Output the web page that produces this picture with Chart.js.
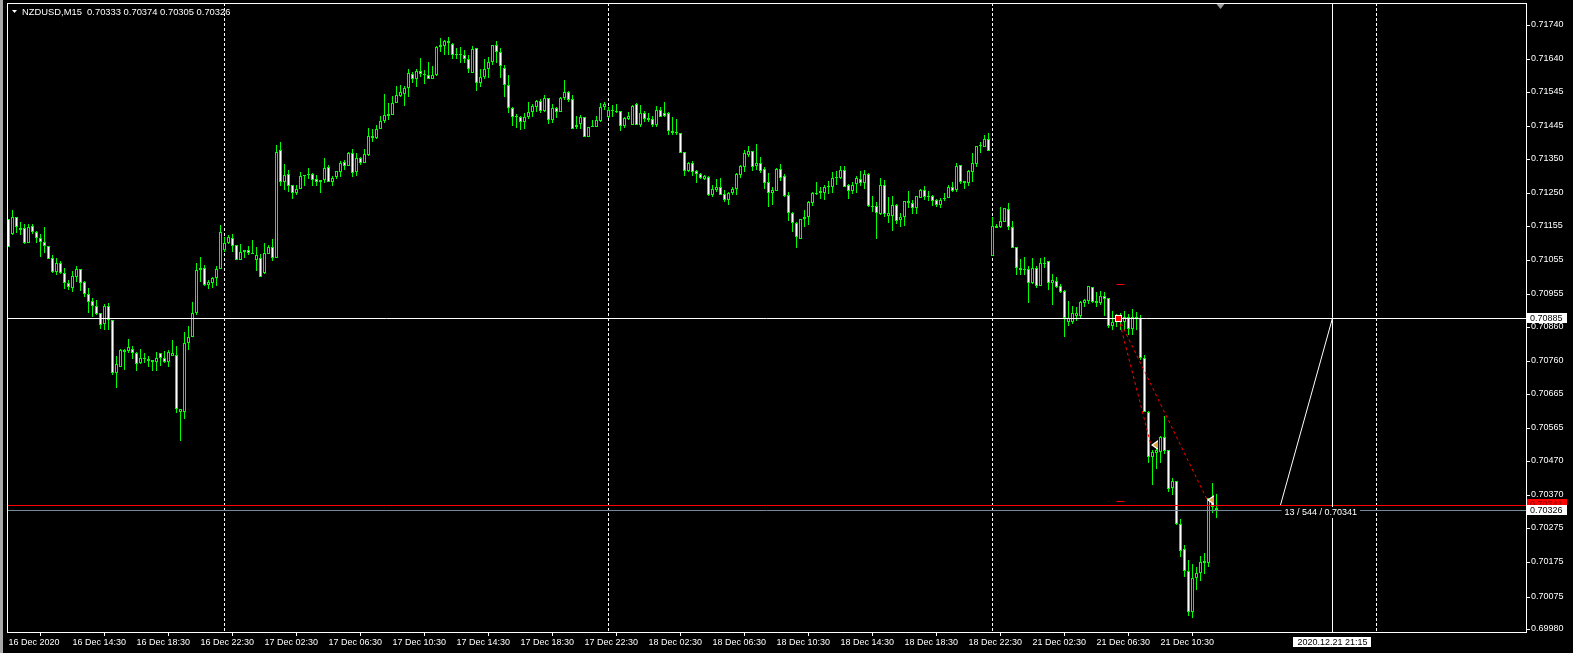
<!DOCTYPE html>
<html>
<head>
<meta charset="utf-8">
<script src="https://cdn.jsdelivr.net/npm/chart.js@4.4.0/dist/chart.umd.min.js"></script>
<style>
  html, body { margin: 0; padding: 0; background: #000; overflow: hidden; }
  #wrap { position: relative; width: 1573px; height: 653px; }
</style>
</head>
<body>
<div id="wrap"><canvas id="chart"></canvas></div>
<script>
// NZDUSD M15, one value per bar, bar 0 = 16 Dec 10:30
const symbolTitle = "NZDUSD,M15  0.70333 0.70374 0.70305 0.70326";

const openP = [
  0.71174,0.71132,0.71179,0.71148,0.71147,0.71105,0.71154,0.71137,0.71118,0.71107,
  0.71097,0.71060,0.71021,0.71045,0.71016,0.70987,0.70972,0.71006,0.71028,0.70992,
  0.70955,0.70935,0.70921,0.70900,0.70868,0.70921,0.70880,0.70727,0.70744,0.70788,
  0.70791,0.70795,0.70783,0.70754,0.70770,0.70768,0.70763,0.70759,0.70783,0.70770,
  0.70759,0.70776,0.70777,0.70613,0.70613,0.70812,0.70832,0.70902,0.71025,0.71032,
  0.70982,0.70989,0.71003,0.71028,0.71084,0.71103,0.71118,0.71100,0.71056,0.71078,
  0.71083,0.71075,0.71056,0.71060,0.71018,0.71073,0.71093,0.71062,0.71375,0.71283,
  0.71304,0.71272,0.71251,0.71262,0.71298,0.71302,0.71304,0.71292,0.71287,0.71288,
  0.71325,0.71283,0.71296,0.71312,0.71339,0.71329,0.71366,0.71312,0.71351,0.71338,
  0.71360,0.71411,0.71411,0.71435,0.71459,0.71475,0.71478,0.71511,0.71533,0.71539,
  0.71555,0.71595,0.71582,0.71605,0.71597,0.71592,0.71583,0.71592,0.71674,0.71679,
  0.71692,0.71684,0.71654,0.71652,0.71652,0.71639,0.71598,0.71671,0.71569,0.71587,
  0.71612,0.71632,0.71681,0.71661,0.71613,0.71563,0.71496,0.71473,0.71472,0.71458,
  0.71470,0.71487,0.71501,0.71519,0.71489,0.71527,0.71461,0.71498,0.71487,0.71527,
  0.71543,0.71524,0.71441,0.71451,0.71470,0.71412,0.71443,0.71443,0.71460,0.71501,
  0.71472,0.71488,0.71485,0.71488,0.71446,0.71466,0.71448,0.71508,0.71447,0.71482,
  0.71468,0.71464,0.71449,0.71491,0.71482,0.71482,0.71431,0.71428,0.71425,0.71368,
  0.71314,0.71338,0.71314,0.71305,0.71291,0.71297,0.71243,0.71259,0.71268,0.71247,
  0.71229,0.71249,0.71261,0.71303,0.71326,0.71360,0.71372,0.71328,0.71336,0.71319,
  0.71282,0.71249,0.71257,0.71320,0.71299,0.71243,0.71191,0.71163,0.71117,0.71173,
  0.71179,0.71222,0.71248,0.71249,0.71251,0.71266,0.71268,0.71294,0.71294,0.71317,
  0.71272,0.71257,0.71275,0.71290,0.71280,0.71305,0.71212,0.71212,0.71188,0.71272,
  0.71184,0.71184,0.71215,0.71171,0.71181,0.71227,0.71221,0.71207,0.71236,0.71259,
  0.71241,0.71241,0.71229,0.71214,0.71233,0.71236,0.71266,0.71259,0.71330,0.71285,
  0.71280,0.71312,0.71333,0.71387,0.71385,0.71406,0.71066,0.71149,0.71152,0.71166,
  0.71202,0.71150,0.71092,0.71032,0.71029,0.71028,0.70987,0.71033,0.70980,0.71042,
  0.71052,0.70987,0.70994,0.70979,0.70964,0.70875,0.70875,0.70893,0.70893,0.70931,
  0.70935,0.70977,0.70936,0.70929,0.70950,0.70943,0.70863,0.70890,0.70888,0.70875,
  0.70890,0.70854,0.70890,0.70887,0.70771,0.70613,0.70482,0.70494,0.70496,0.70540,
  0.70501,0.70390,0.70411,0.70285,0.70215,0.70150,0.70031,0.70128,0.70143,0.70172,
  0.70172,0.70361,0.70333
];
const highP = [
  0.71174,0.71200,0.71181,0.71165,0.71160,0.71160,0.71160,0.71140,0.71130,0.71150,
  0.71097,0.71069,0.71060,0.71052,0.71031,0.70997,0.71024,0.71037,0.71028,0.70994,
  0.70972,0.70945,0.70938,0.70900,0.70927,0.70929,0.70880,0.70775,0.70796,0.70795,
  0.70824,0.70804,0.70788,0.70795,0.70783,0.70775,0.70763,0.70786,0.70783,0.70790,
  0.70793,0.70822,0.70804,0.70622,0.70845,0.70863,0.70933,0.71045,0.71064,0.71040,
  0.70997,0.71006,0.71038,0.71156,0.71123,0.71128,0.71131,0.71100,0.71101,0.71083,
  0.71096,0.71113,0.71094,0.71072,0.71103,0.71100,0.71116,0.71390,0.71398,0.71334,
  0.71317,0.71272,0.71272,0.71311,0.71301,0.71323,0.71307,0.71301,0.71287,0.71352,
  0.71331,0.71300,0.71313,0.71344,0.71346,0.71369,0.71377,0.71366,0.71356,0.71378,
  0.71439,0.71437,0.71448,0.71474,0.71538,0.71513,0.71533,0.71561,0.71563,0.71561,
  0.71611,0.71603,0.71610,0.71643,0.71608,0.71631,0.71620,0.71679,0.71701,0.71695,
  0.71703,0.71686,0.71671,0.71676,0.71666,0.71652,0.71678,0.71671,0.71610,0.71639,
  0.71645,0.71681,0.71692,0.71671,0.71622,0.71593,0.71501,0.71480,0.71474,0.71482,
  0.71515,0.71509,0.71521,0.71525,0.71534,0.71527,0.71509,0.71501,0.71530,0.71579,
  0.71547,0.71535,0.71474,0.71477,0.71470,0.71443,0.71462,0.71474,0.71511,0.71516,
  0.71501,0.71506,0.71509,0.71488,0.71472,0.71487,0.71506,0.71511,0.71506,0.71489,
  0.71482,0.71474,0.71503,0.71501,0.71515,0.71486,0.71472,0.71465,0.71425,0.71370,
  0.71341,0.71344,0.71317,0.71307,0.71302,0.71299,0.71272,0.71291,0.71295,0.71259,
  0.71253,0.71268,0.71307,0.71331,0.71375,0.71387,0.71372,0.71392,0.71354,0.71326,
  0.71307,0.71266,0.71322,0.71334,0.71304,0.71254,0.71195,0.71166,0.71175,0.71200,
  0.71227,0.71254,0.71282,0.71266,0.71273,0.71286,0.71311,0.71314,0.71328,0.71328,
  0.71276,0.71283,0.71299,0.71314,0.71317,0.71309,0.71241,0.71224,0.71294,0.71288,
  0.71237,0.71241,0.71217,0.71191,0.71227,0.71256,0.71229,0.71241,0.71263,0.71270,
  0.71256,0.71244,0.71231,0.71234,0.71249,0.71273,0.71282,0.71338,0.71330,0.71285,
  0.71317,0.71367,0.71387,0.71398,0.71419,0.71424,0.71181,0.71160,0.71208,0.71205,
  0.71220,0.71168,0.71092,0.71057,0.71063,0.71037,0.71060,0.71038,0.71060,0.71063,
  0.71052,0.71014,0.71004,0.70984,0.70967,0.70935,0.70921,0.70919,0.70936,0.70940,
  0.70979,0.70977,0.70963,0.70964,0.70962,0.70943,0.70907,0.70899,0.70901,0.70906,
  0.70899,0.70911,0.70903,0.70894,0.70778,0.70615,0.70502,0.70511,0.70542,0.70601,
  0.70501,0.70419,0.70411,0.70300,0.70225,0.70181,0.70170,0.70162,0.70193,0.70203,
  0.70361,0.70405,0.70374
];
const lowP = [
  0.71092,0.71128,0.71134,0.71128,0.71101,0.71105,0.71132,0.71103,0.71064,0.71074,
  0.71059,0.71018,0.71011,0.71013,0.70971,0.70967,0.70963,0.70992,0.70966,0.70948,
  0.70901,0.70890,0.70895,0.70855,0.70851,0.70851,0.70720,0.70683,0.70742,0.70735,
  0.70785,0.70766,0.70733,0.70752,0.70754,0.70742,0.70733,0.70733,0.70746,0.70754,
  0.70742,0.70776,0.70610,0.70528,0.70593,0.70793,0.70832,0.70894,0.70992,0.70979,
  0.70971,0.70973,0.70979,0.71028,0.71079,0.71101,0.71078,0.71056,0.71056,0.71062,
  0.71069,0.71071,0.71024,0.71004,0.71014,0.71073,0.71053,0.71062,0.71270,0.71259,
  0.71253,0.71233,0.71244,0.71262,0.71271,0.71292,0.71270,0.71270,0.71251,0.71280,
  0.71283,0.71270,0.71292,0.71297,0.71317,0.71329,0.71297,0.71300,0.71331,0.71338,
  0.71358,0.71399,0.71408,0.71435,0.71455,0.71462,0.71478,0.71511,0.71530,0.71503,
  0.71530,0.71571,0.71559,0.71589,0.71568,0.71583,0.71583,0.71590,0.71661,0.71652,
  0.71652,0.71641,0.71641,0.71627,0.71627,0.71598,0.71598,0.71548,0.71559,0.71581,
  0.71584,0.71622,0.71627,0.71584,0.71530,0.71482,0.71445,0.71438,0.71433,0.71437,
  0.71464,0.71470,0.71486,0.71482,0.71487,0.71451,0.71455,0.71467,0.71487,0.71521,
  0.71516,0.71435,0.71435,0.71435,0.71412,0.71412,0.71443,0.71441,0.71458,0.71491,
  0.71467,0.71472,0.71482,0.71431,0.71438,0.71462,0.71448,0.71447,0.71441,0.71457,
  0.71457,0.71443,0.71443,0.71470,0.71472,0.71419,0.71419,0.71419,0.71365,0.71299,
  0.71312,0.71299,0.71280,0.71292,0.71288,0.71241,0.71239,0.71254,0.71243,0.71225,
  0.71215,0.71244,0.71244,0.71293,0.71312,0.71356,0.71315,0.71317,0.71307,0.71263,
  0.71208,0.71215,0.71257,0.71286,0.71237,0.71169,0.71136,0.71091,0.71115,0.71152,
  0.71158,0.71212,0.71245,0.71233,0.71229,0.71247,0.71251,0.71272,0.71290,0.71268,
  0.71231,0.71247,0.71251,0.71270,0.71261,0.71208,0.71195,0.71117,0.71186,0.71179,
  0.71164,0.71140,0.71160,0.71150,0.71154,0.71205,0.71189,0.71189,0.71236,0.71229,
  0.71228,0.71212,0.71208,0.71207,0.71226,0.71236,0.71254,0.71254,0.71275,0.71261,
  0.71270,0.71283,0.71326,0.71365,0.71385,0.71373,0.71066,0.71149,0.71149,0.71166,
  0.71142,0.71091,0.71011,0.71011,0.71011,0.70931,0.70985,0.70972,0.70979,0.71031,
  0.70969,0.70924,0.70972,0.70960,0.70830,0.70863,0.70868,0.70877,0.70885,0.70919,
  0.70927,0.70931,0.70919,0.70924,0.70892,0.70856,0.70851,0.70861,0.70851,0.70851,
  0.70836,0.70836,0.70851,0.70764,0.70613,0.70463,0.70400,0.70446,0.70463,0.70490,
  0.70379,0.70371,0.70283,0.70191,0.70133,0.70018,0.70014,0.70094,0.70120,0.70141,
  0.70162,0.70319,0.70305
];
const closeP = [
  0.71092,0.71179,0.71150,0.71143,0.71103,0.71152,0.71137,0.71118,0.71108,0.71097,
  0.71059,0.71021,0.71045,0.71018,0.70987,0.70977,0.71008,0.71028,0.70987,0.70955,
  0.70934,0.70922,0.70898,0.70867,0.70921,0.70880,0.70727,0.70752,0.70793,0.70793,
  0.70801,0.70783,0.70751,0.70771,0.70767,0.70762,0.70759,0.70771,0.70770,0.70759,
  0.70786,0.70783,0.70622,0.70622,0.70812,0.70832,0.70902,0.71026,0.71032,0.70982,
  0.70991,0.71003,0.71029,0.71136,0.71105,0.71121,0.71097,0.71056,0.71077,0.71083,
  0.71074,0.71073,0.71069,0.71006,0.71074,0.71093,0.71062,0.71369,0.71283,0.71302,
  0.71270,0.71251,0.71263,0.71299,0.71301,0.71305,0.71288,0.71283,0.71283,0.71322,
  0.71283,0.71295,0.71313,0.71338,0.71329,0.71366,0.71309,0.71351,0.71338,0.71362,
  0.71416,0.71416,0.71436,0.71459,0.71476,0.71479,0.71511,0.71534,0.71544,0.71555,
  0.71598,0.71582,0.71604,0.71597,0.71592,0.71583,0.71592,0.71676,0.71681,0.71692,
  0.71686,0.71652,0.71651,0.71651,0.71639,0.71610,0.71669,0.71569,0.71587,0.71610,
  0.71632,0.71681,0.71661,0.71620,0.71563,0.71496,0.71470,0.71470,0.71458,0.71470,
  0.71487,0.71502,0.71517,0.71490,0.71527,0.71461,0.71498,0.71487,0.71527,0.71543,
  0.71521,0.71435,0.71448,0.71470,0.71412,0.71443,0.71445,0.71462,0.71499,0.71508,
  0.71491,0.71491,0.71488,0.71446,0.71467,0.71474,0.71504,0.71449,0.71482,0.71465,
  0.71462,0.71449,0.71491,0.71472,0.71474,0.71431,0.71424,0.71424,0.71365,0.71314,
  0.71338,0.71312,0.71304,0.71293,0.71299,0.71243,0.71261,0.71268,0.71245,0.71229,
  0.71249,0.71263,0.71305,0.71328,0.71365,0.71372,0.71326,0.71336,0.71315,0.71278,
  0.71249,0.71259,0.71320,0.71295,0.71241,0.71193,0.71162,0.71121,0.71173,0.71179,
  0.71225,0.71251,0.71251,0.71255,0.71266,0.71270,0.71295,0.71296,0.71317,0.71268,
  0.71255,0.71272,0.71294,0.71280,0.71305,0.71212,0.71208,0.71191,0.71272,0.71189,
  0.71191,0.71215,0.71169,0.71181,0.71227,0.71220,0.71207,0.71241,0.71259,0.71239,
  0.71238,0.71228,0.71214,0.71229,0.71235,0.71266,0.71257,0.71328,0.71283,0.71280,
  0.71314,0.71336,0.71387,0.71390,0.71406,0.71373,0.71154,0.71154,0.71168,0.71205,
  0.71150,0.71091,0.71031,0.71027,0.71027,0.70987,0.71033,0.70980,0.71045,0.71045,
  0.70987,0.70997,0.70977,0.70963,0.70887,0.70887,0.70902,0.70902,0.70933,0.70938,
  0.70979,0.70933,0.70929,0.70950,0.70942,0.70863,0.70875,0.70875,0.70880,0.70888,
  0.70854,0.70890,0.70883,0.70769,0.70613,0.70482,0.70497,0.70502,0.70540,0.70499,
  0.70387,0.70411,0.70285,0.70209,0.70150,0.70031,0.70128,0.70143,0.70177,0.70179,
  0.70361,0.70335,0.70326
];

// time axis: bar index of each label, and its text
const xTickBars = [0,16,32,48,64,80,96,112,128,144,160,176,192,208,224,240,256,272,288];
const xTickLabels = [
  "16 Dec 2020","16 Dec 14:30","16 Dec 18:30","16 Dec 22:30","17 Dec 02:30","17 Dec 06:30",
  "17 Dec 10:30","17 Dec 14:30","17 Dec 18:30","17 Dec 22:30","18 Dec 02:30","18 Dec 06:30",
  "18 Dec 10:30","18 Dec 14:30","18 Dec 18:30","18 Dec 22:30","21 Dec 02:30","21 Dec 06:30",
  "21 Dec 10:30"
];
const daySeparatorBars = [54, 150, 246, 342];

// price axis
const yTickValues = [
  0.71740,0.71640,0.71545,0.71445,0.71350,0.71250,0.71155,0.71055,0.70955,0.70860,
  0.70760,0.70665,0.70565,0.70470,0.70370,0.70275,0.70175,0.70075,0.69980
];
const yMin = 0.69972, yMax = 0.71803;
const xMin = -0.375, xMax = 379.375;

// crosshair, measure, levels, trades
const crossBar = 331, crossPrice = 0.70885, crossTime = "2020.12.21 21:15";
const measureBar = 318, measurePrice = 0.70341, measureText = "13 / 544 / 0.70341";
const bidPrice = 0.70326;
const shiftBar = 303;
const tradeOpenBar = 277.5, tradeOpenPrice = 0.70885;
const tradeCloseBars = [285.6, 299.7];
const tradeClosePrices = [0.70515, 0.70357];
const stopLevels = [0.70985, 0.70353];

const FAMILY = '"Liberation Sans", Arial, sans-serif';
const FONT = '9px ' + FAMILY;
const LIME = '#00ff00';

const wickData = highP.map((h, i) => ({ x: i, y: [lowP[i], h] }));
const bodyData = openP.map((o, i) => ({ x: i, y: [o, closeP[i]] }));
const bodyFill = openP.map((o, i) => (closeP[i] < o ? '#ffffff' : '#000000'));

const crisp = v => Math.floor(v) + 0.5;

function boxLabel(ctx, text, x, yc, w, bg, fg) {
  ctx.fillStyle = bg;
  ctx.fillRect(x, Math.round(yc) - 5, w, 10);
  ctx.fillStyle = fg;
  ctx.textBaseline = 'middle';
  ctx.textAlign = 'left';
  ctx.fillText(text, x + 3, Math.round(yc) + 0.5);
}

const mt4Overlay = {
  id: 'mt4Overlay',
  beforeDraw(chart) {
    const ctx = chart.ctx;
    ctx.save();
    ctx.fillStyle = '#000';
    ctx.fillRect(0, 0, chart.width, chart.height);
    ctx.fillStyle = '#a8a8a8';
    ctx.fillRect(0, 0, 3, chart.height);
    ctx.restore();
  },
  beforeDatasetsDraw(chart) {
    const { ctx, chartArea: a, scales: { x } } = chart;
    ctx.save();
    ctx.strokeStyle = '#ffffff';
    ctx.lineWidth = 1;
    ctx.setLineDash([3, 2]);
    daySeparatorBars.forEach(b => {
      const px = crisp(x.getPixelForValue(b));
      ctx.beginPath();
      ctx.moveTo(px, a.top);
      ctx.lineTo(px, a.bottom);
      ctx.stroke();
    });
    ctx.restore();
  },
  afterDatasetsDraw(chart) {
    const { ctx, chartArea: a, scales: { x, y } } = chart;
    ctx.save();
    ctx.beginPath();
    ctx.rect(a.left, a.top, a.right - a.left, a.bottom - a.top);
    ctx.clip();
    ctx.lineWidth = 1;

    const hline = (p, color) => {
      const py = crisp(y.getPixelForValue(p));
      ctx.strokeStyle = color;
      ctx.beginPath();
      ctx.moveTo(a.left, py);
      ctx.lineTo(a.right, py);
      ctx.stroke();
    };
    hline(bidPrice, '#778899');
    hline(measurePrice, '#ff0000');
    hline(crossPrice, '#ffffff');

    // crosshair vertical
    const cx = crisp(x.getPixelForValue(crossBar));
    ctx.strokeStyle = '#ffffff';
    ctx.beginPath();
    ctx.moveTo(cx, a.top);
    ctx.lineTo(cx, a.bottom);
    ctx.stroke();

    // measuring line
    ctx.beginPath();
    ctx.moveTo(x.getPixelForValue(measureBar), y.getPixelForValue(measurePrice));
    ctx.lineTo(x.getPixelForValue(crossBar), y.getPixelForValue(crossPrice));
    ctx.stroke();

    // trade lines
    const ox = x.getPixelForValue(tradeOpenBar), oy = y.getPixelForValue(tradeOpenPrice);
    ctx.strokeStyle = '#ff0000';
    ctx.setLineDash([3, 3]);
    tradeCloseBars.forEach((b, k) => {
      ctx.beginPath();
      ctx.moveTo(ox, oy);
      ctx.lineTo(x.getPixelForValue(b), y.getPixelForValue(tradeClosePrices[k]));
      ctx.stroke();
    });
    ctx.setLineDash([]);

    // stop / target dashes
    stopLevels.forEach(p => {
      const py = crisp(y.getPixelForValue(p));
      ctx.beginPath();
      ctx.moveTo(ox - 2, py);
      ctx.lineTo(ox + 6, py);
      ctx.stroke();
    });

    // open marker
    ctx.fillStyle = '#ffffff';
    ctx.fillRect(Math.round(ox) - 4, Math.round(oy) - 3, 7, 7);
    ctx.fillStyle = '#ff0000';
    ctx.fillRect(Math.round(ox) - 3, Math.round(oy) - 2, 5, 5);

    // close markers
    tradeCloseBars.forEach((b, k) => {
      const tx = Math.round(x.getPixelForValue(b)), ty = Math.round(y.getPixelForValue(tradeClosePrices[k]));
      ctx.fillStyle = '#ffffff';
      ctx.beginPath();
      ctx.moveTo(tx, ty);
      ctx.lineTo(tx + 7, ty - 5);
      ctx.lineTo(tx + 7, ty + 5);
      ctx.closePath();
      ctx.fill();
      ctx.fillStyle = '#d9a441';
      ctx.beginPath();
      ctx.moveTo(tx + 2, ty);
      ctx.lineTo(tx + 7, ty - 3.5);
      ctx.lineTo(tx + 7, ty + 3.5);
      ctx.closePath();
      ctx.fill();
    });

    // measure info text
    ctx.font = FONT;
    const mx = x.getPixelForValue(measureBar);
    const my = Math.round(y.getPixelForValue(bidPrice)) + 2;
    const tw = ctx.measureText(measureText).width;
    ctx.fillStyle = '#000';
    ctx.fillRect(mx + 1, my - 5, tw + 6, 11);
    ctx.fillStyle = '#ffffff';
    ctx.textBaseline = 'middle';
    ctx.textAlign = 'left';
    ctx.fillText(measureText, mx + 4, my + 0.5);
    ctx.restore();
  },
  afterDraw(chart) {
    const { ctx, chartArea: a, scales: { x, y } } = chart;
    ctx.save();
    // frame
    ctx.strokeStyle = '#ffffff';
    ctx.lineWidth = 1;
    ctx.strokeRect(a.left + 0.5, a.top + 0.5, a.right - a.left, a.bottom - a.top);

    // title
    ctx.fillStyle = '#ffffff';
    ctx.beginPath();
    ctx.moveTo(12, 10); ctx.lineTo(17, 10); ctx.lineTo(14.5, 13); ctx.closePath();
    ctx.fill();
    ctx.font = '9.4px ' + FAMILY;
    ctx.textBaseline = 'middle';
    ctx.textAlign = 'left';
    ctx.fillText(symbolTitle, 22, 12.5);
    ctx.font = FONT;

    // chart shift marker
    const sx = x.getPixelForValue(shiftBar);
    ctx.fillStyle = '#9a9a9a';
    ctx.beginPath();
    ctx.moveTo(sx - 4, a.top + 1); ctx.lineTo(sx + 4, a.top + 1); ctx.lineTo(sx, a.top + 6); ctx.closePath();
    ctx.fill();

    // price labels on the axis
    const lx = a.right + 1;
    boxLabel(ctx, measurePrice.toFixed(5), lx, y.getPixelForValue(measurePrice) - 1, 40, '#ff0000', '#800000');
    boxLabel(ctx, bidPrice.toFixed(5), lx, y.getPixelForValue(bidPrice), 40, '#ffffff', '#000000');
    boxLabel(ctx, crossPrice.toFixed(5), lx, y.getPixelForValue(crossPrice), 40, '#ffffff', '#000000');

    // crosshair time label
    const cx = x.getPixelForValue(crossBar);
    const tw = ctx.measureText(crossTime).width;
    ctx.fillStyle = '#ffffff';
    ctx.fillRect(Math.round(cx - tw / 2) - 4, a.bottom + 5, Math.round(tw) + 8, 10);
    ctx.fillStyle = '#000000';
    ctx.textAlign = 'center';
    ctx.fillText(crossTime, cx, a.bottom + 10.5);
    ctx.restore();
  }
};

new Chart(document.getElementById('chart').getContext('2d'), {
  type: 'bar',
  data: {
    datasets: [
      {
        label: 'bodies',
        data: bodyData,
        backgroundColor: bodyFill,
        borderColor: LIME,
        borderWidth: 1,
        borderSkipped: false,
        barThickness: 3,
        minBarLength: 1,
        inflateAmount: 0,
        grouped: false,
        order: 1
      },
      {
        label: 'wicks',
        data: wickData,
        backgroundColor: LIME,
        borderWidth: 0,
        barThickness: 1,
        inflateAmount: 0,
        grouped: false,
        order: 2
      }
    ]
  },
  options: {
    responsive: true,
    maintainAspectRatio: false,
    animation: false,
    events: [],
    layout: { padding: { left: 7, top: 3, right: 0, bottom: 0 } },
    scales: {
      x: {
        type: 'linear',
        min: xMin,
        max: xMax,
        offset: false,
        afterBuildTicks: s => { s.ticks = xTickBars.map(v => ({ value: v })); },
        afterFit: s => { s.height = 21; s.paddingLeft = 0; s.paddingRight = 0; },
        grid: { drawOnChartArea: false, drawTicks: true, tickLength: 4, color: '#ffffff' },
        border: { display: false },
        ticks: {
          autoSkip: false,
          maxRotation: 0,
          minRotation: 0,
          align: 'start',
          padding: 1,
          color: '#ffffff',
          font: { family: FAMILY, size: 9 },
          callback: (v, i) => xTickLabels[i]
        }
      },
      y: {
        type: 'linear',
        position: 'right',
        min: yMin,
        max: yMax,
        alignToPixels: true,
        afterBuildTicks: s => { s.ticks = yTickValues.map(v => ({ value: v })); },
        afterFit: s => { s.width = 47; s.paddingTop = 0; s.paddingBottom = 0; },
        grid: { drawOnChartArea: false, drawTicks: true, tickLength: 4, color: '#ffffff' },
        border: { display: false },
        ticks: {
          padding: 1,
          color: '#ffffff',
          font: { family: FAMILY, size: 9 },
          callback: v => Number(v).toFixed(5)
        }
      }
    },
    plugins: {
      legend: { display: false },
      tooltip: { enabled: false }
    }
  },
  plugins: [mt4Overlay]
});
</script>
</body>
</html>
